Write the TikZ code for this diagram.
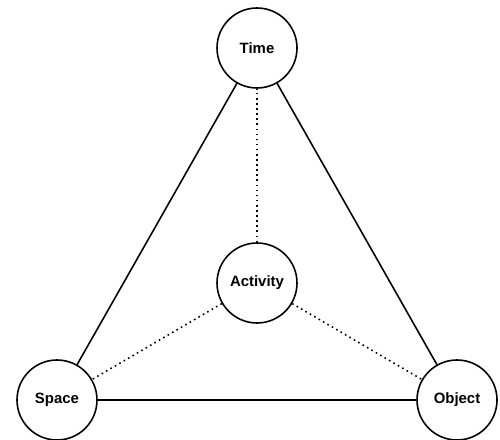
\documentclass[tikz,border=0pt]{standalone}
\usepackage{fontspec}
\setmainfont{Liberation Sans}
\usepackage{tikz}
\usetikzlibrary{positioning}

\begin{document}
\begin{tikzpicture}[
        circ/.style={circle, draw, line width=0.9pt, fill=white,
            minimum size=1.6cm, inner sep=0pt,
            font=\bfseries\fontsize{8.5}{10}\selectfont},
        link/.style={line width=0.9pt},
        dotlink/.style={line width=0.9pt, dotted}
    ]
        \useasboundingbox (0,0) rectangle (10,8.78);
        % Corners and centre
        \node[circ] (time) at (5.14,7.82) {Time};
        \node[circ] (activity) at (5.14,3.12) {Activity};
        \node[circ] (space) at (1.14,0.78) {Space};
        \node[circ] (object) at (9.14,0.78) {Object};

        % Connections
        \draw[link] (time) -- (space);
        \draw[link] (time) -- (object);
        \draw[link] (space) -- (object);
        \draw[dotlink] (activity) -- (time);
        \draw[dotlink] (activity) -- (space);
        \draw[dotlink] (activity) -- (object);
    \end{tikzpicture}
\end{document}
